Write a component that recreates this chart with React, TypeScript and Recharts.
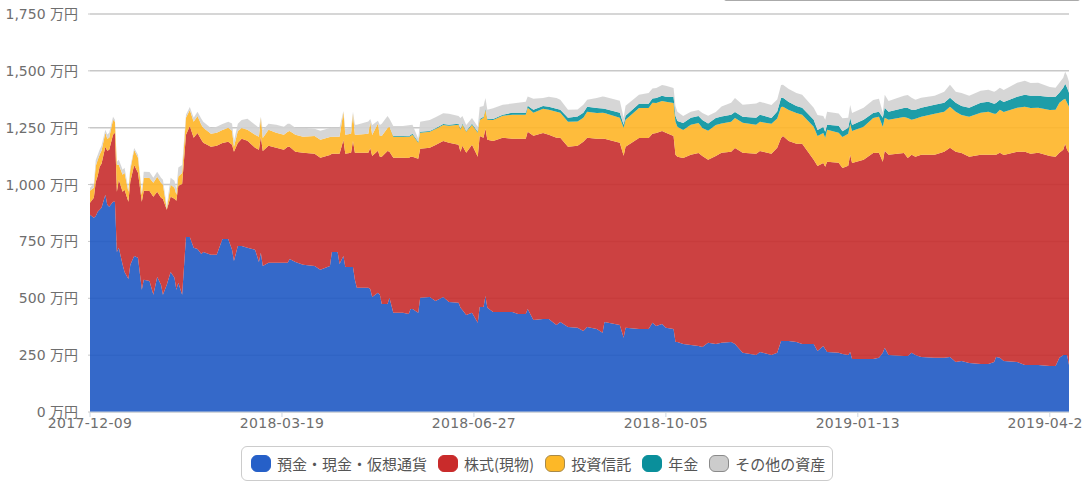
import { AreaChart, Area, CartesianGrid, XAxis, YAxis } from "recharts";

// days since 2017-12-09, sampled where the outline changes
const days = [
  0,2,3,4,5,6,8,9,10,12,
  13,14,15,17,18,20,21,23,25,27,
  28,31,33,35,37,38,40,42,44,45,
  46,48,50,52,54,56,58,59,63,66,
  69,72,74,75,77,79,82,86,88,89,
  90,93,97,101,103,104,107,111,117,120,
  125,126,129,130,132,133,136,137,138,139,
  145,146,147,150,151,152,155,156,158,163,
  166,167,168,171,172,177,180,184,187,192,
  193,194,196,199,202,203,205,206,207,210,
  215,220,223,227,228,231,236,239,243,245,
  249,254,257,259,264,267,268,276,278,279,
  286,291,293,295,298,300,304,305,306,309,
  313,317,319,322,326,329,334,336,340,347,
  349,355,358,360,361,364,368,371,377,379,
  382,383,384,390,392,395,396,397,403,408,
  411,413,414,416,424,426,428,430,433,440,
  445,448,451,454,458,464,468,471,472,474,
  476,483,487,490,494,500,503,505,507,508,
  509,510,
];

const cash = [
  867,854,862,880,889,898,955,911,902,924,
  924,704,722,647,616,585,647,686,678,537,
  581,576,515,594,559,515,559,616,590,537,
  568,515,770,770,722,717,695,704,691,691,
  761,761,713,664,730,730,722,713,660,700,
  642,656,656,656,656,673,660,647,642,625,
  642,704,704,651,686,638,638,638,581,546,
  546,541,506,524,515,475,475,502,436,436,
  431,453,453,436,502,506,488,506,484,480,
  458,449,427,436,392,462,462,510,458,440,
  440,440,431,431,453,405,409,409,383,396,
  374,370,356,374,365,348,396,383,326,370,
  365,365,392,378,387,370,365,308,308,299,
  295,290,286,304,299,304,308,299,260,251,
  264,251,260,312,312,312,308,299,299,268,
  290,277,264,260,255,251,264,233,233,233,
  238,260,282,251,246,246,260,251,242,238,
  238,242,220,224,216,211,211,220,242,238,
  224,220,207,207,207,202,202,238,251,251,
  251,207,
];

const stocks = [
  53,88,150,158,189,194,211,238,251,295,
  304,264,299,321,361,339,365,400,374,387,
  392,396,431,374,383,422,330,330,348,392,
  427,488,449,488,484,510,502,480,475,480,
  422,427,462,480,453,471,471,449,493,510,
  506,515,506,497,510,493,484,493,493,493,
  488,431,431,484,510,497,502,554,559,594,
  594,620,620,625,607,647,673,642,682,682,
  686,669,669,678,656,656,686,686,700,695,
  686,722,713,739,730,752,744,735,739,752,
  766,761,770,770,779,810,818,810,823,810,
  792,801,832,832,836,854,805,801,801,796,
  840,840,832,849,849,858,849,823,814,818,
  836,849,840,805,827,836,836,862,880,884,
  884,884,902,893,902,880,871,880,810,814,
  805,801,836,836,818,832,867,862,876,906,
  902,840,867,880,893,871,871,871,889,893,
  906,920,924,915,906,920,920,911,889,902,
  906,924,937,928,933,924,920,902,902,928,
  902,933,
];

const funds = [
  53,44,70,70,53,57,62,53,53,66,
  48,119,66,75,75,44,53,66,66,31,
  57,57,62,66,66,62,4,53,48,26,
  40,48,75,70,70,75,66,66,57,57,
  57,62,62,22,53,48,48,57,57,84,
  57,70,66,66,66,70,75,70,79,79,
  79,75,75,75,123,84,84,119,79,79,
  84,114,92,119,92,92,101,110,92,92,
  92,92,97,70,70,70,70,70,75,88,
  97,92,92,88,106,70,88,84,88,92,
  97,106,106,106,106,101,106,110,114,110,
  110,106,106,114,114,114,114,110,123,119,
  132,132,136,132,132,136,145,145,132,123,
  132,132,123,128,136,128,132,132,132,128,
  128,132,128,136,128,136,136,128,145,132,
  132,128,141,132,136,141,136,141,145,154,
  158,154,145,154,158,176,154,167,167,180,
  176,180,176,167,176,185,189,180,180,189,
  189,194,198,202,198,202,207,220,220,198,
  207,202,
];

const pension = [
  0,0,0,0,0,0,0,0,0,0,
  0,0,0,0,0,0,0,0,0,0,
  0,0,0,0,0,0,0,0,0,0,
  0,0,0,0,0,0,0,0,0,0,
  0,0,0,0,0,0,0,0,0,0,
  0,0,0,0,0,0,0,0,0,0,
  0,0,0,0,0,0,0,0,0,0,
  0,0,0,0,0,0,0,0,4,4,
  4,4,4,4,4,4,4,4,4,4,
  4,4,4,4,4,4,4,4,4,4,
  4,9,9,9,9,13,13,13,13,13,
  18,22,22,22,22,18,18,22,13,18,
  18,18,18,22,22,22,26,26,26,31,
  31,31,35,31,31,31,31,26,26,31,
  31,26,31,40,40,35,31,31,31,26,
  26,26,22,31,26,26,26,26,31,22,
  22,40,44,35,40,44,44,40,40,40,
  40,40,40,40,40,44,44,44,48,44,
  44,48,53,53,53,57,57,44,53,66,
  66,62,
];

const other = [
  13,18,26,22,22,22,13,18,22,13,
  9,13,22,22,22,13,13,9,13,9,
  26,26,22,22,22,22,13,31,31,26,
  40,35,13,13,18,18,26,26,26,26,
  26,26,31,26,31,35,48,44,40,4,
  35,26,35,35,35,31,31,40,31,40,
  40,40,40,40,4,26,26,9,44,44,
  53,13,44,13,48,53,53,35,44,44,
  48,44,40,13,44,48,48,48,48,35,
  48,35,26,26,22,53,48,48,40,48,
  44,40,44,48,40,48,35,44,48,44,
  35,31,35,31,44,53,53,53,31,44,
  40,48,44,44,48,48,40,44,40,31,
  26,26,31,35,26,44,53,62,53,62,
  57,57,53,57,57,57,57,57,53,66,
  48,53,57,53,57,44,57,53,53,57,
  57,22,57,48,53,57,53,44,44,40,
  48,57,48,57,53,53,53,53,53,53,
  53,62,62,57,57,44,40,44,44,53,
  53,48,
];

const yTicks = [0, 250, 500, 750, 1000, 1250, 1500, 1750];
const xTicks = [0, 100, 200, 300, 400, 500];
const xLabels = ["2017-12-09", "2018-03-19", "2018-06-27", "2018-10-05", "2019-01-13", "2019-04-23"];

const series = [
  { key: "cash", name: "預金・現金・仮想通貨", color: "#1f59c3", swatch: "#2660c8", edge: "#2660c8" },
  { key: "stocks", name: "株式(現物)", color: "#c62c2c", swatch: "#c92b2b", edge: "#c92b2b" },
  { key: "funds", name: "投資信託", color: "#feb527", swatch: "#fdb827", edge: "#a88a4a" },
  { key: "pension", name: "年金", color: "#05929f", swatch: "#0a8f9b", edge: "#0a8f9b" },
  { key: "other", name: "その他の資産", color: "#d2d2d2", swatch: "#cccccc", edge: "#8a8a8a" },
];

const data = days.map((day, i) => ({
  day,
  cash: cash[i],
  stocks: stocks[i],
  funds: funds[i],
  pension: pension[i],
  other: other[i],
}));

const legendFont = '"Noto Sans CJK JP", sans-serif';
const axisFont = '"DejaVu Sans", "Noto Sans CJK JP", sans-serif';

export default function App() {
  return (
    <div style={{ position: "absolute", left: 0, top: 0, width: 1088, height: 486, fontFamily: legendFont, overflow: "hidden" }}>
      <div
        style={{
          position: "absolute",
          left: 724,
          top: -4,
          width: 356,
          height: 4,
          borderBottom: "1px solid #aaa",
          borderRadius: 3,
        }}
      />
      <div style={{ width: 1083, height: 486, overflow: "hidden" }}>
        <AreaChart width={1083} height={486} data={data} margin={{ top: 14, right: 14, bottom: 44, left: 0 }}>
          <CartesianGrid vertical={false} stroke="#c8c8c8" strokeWidth={1.5} />
          <XAxis
            dataKey="day"
            type="number"
            domain={[0, 510]}
            ticks={xTicks}
            interval={0}
            height={30}
            tickSize={5}
            tickMargin={1}
            tickFormatter={(d: number) => xLabels[xTicks.indexOf(d)]}
            tick={{ fill: "#6e6e6e", fontSize: 14, fontFamily: axisFont, letterSpacing: 0.3 }}
            stroke="#cdd6e0"
          />
          <YAxis
            width={90}
            domain={[0, 1750]}
            ticks={yTicks}
            interval={0}
            axisLine={false}
            tickSize={2}
            tickMargin={10}
            tickLine={{ stroke: "#c8c8c8" }}
            tickFormatter={(v: number) => `${v.toLocaleString("en-US")} 万円`}
            tick={{ fill: "#6e6e6e", fontSize: 14, fontFamily: axisFont }}
          />
          {series.map((s) => (
            <Area
              key={s.key}
              dataKey={s.key}
              name={s.name}
              stackId="1"
              type="linear"
              fill={s.color}
              fillOpacity={0.9}
              stroke="none"
              dot={false}
              activeDot={false}
              isAnimationActive={false}
            />
          ))}
        </AreaChart>
      </div>
      <div
        style={{
          position: "absolute",
          left: 241,
          top: 446,
          width: 592,
          height: 35,
          boxSizing: "border-box",
          border: "1px solid #ccc",
          borderRadius: 6,
          display: "flex",
          alignItems: "center",
          paddingLeft: 9,
          color: "#555",
          fontSize: 15,
          whiteSpace: "nowrap",
        }}
      >
        {series.map((s) => (
          <span key={s.key} style={{ display: "inline-flex", alignItems: "center", marginRight: 11 }}>
            <span
              style={{
                width: 20,
                height: 17,
                boxSizing: "border-box",
                background: s.swatch,
                border: `1px solid ${s.edge}`,
                borderRadius: 6,
                marginRight: 6,
              }}
            />
            {s.name}
          </span>
        ))}
      </div>
    </div>
  );
}
